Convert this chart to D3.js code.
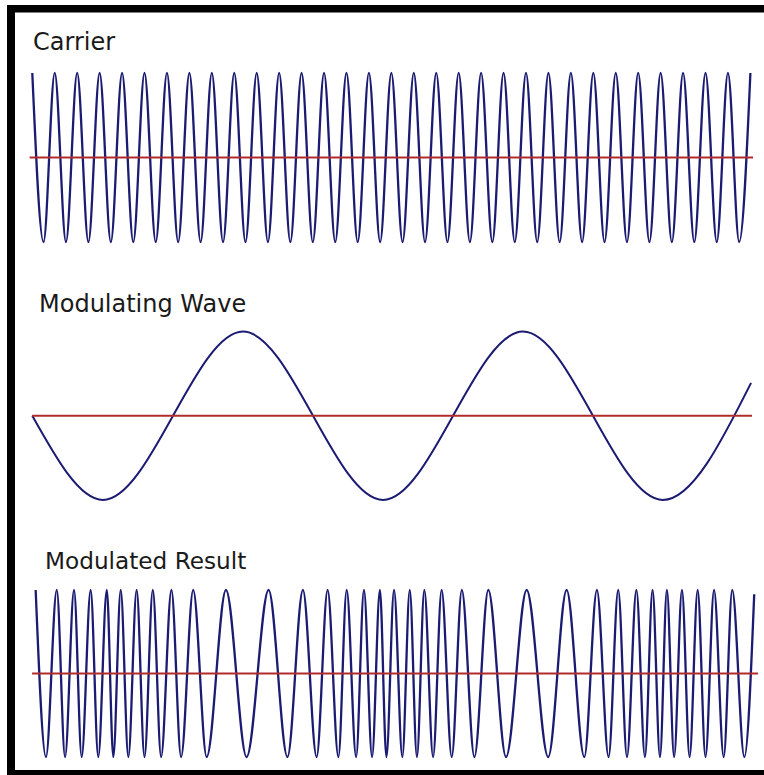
<!DOCTYPE html>
<html>
<head>
<meta charset="utf-8">
<script src="https://cdn.jsdelivr.net/npm/d3@7"></script>
<style>
  html, body { margin: 0; padding: 0; background: #ffffff; }
  svg { display: block; }
</style>
</head>
<body>
<svg id="chart" width="764" height="775"></svg>
<script>
// ---- Data (time in carrier cycles, amplitude normalised to ±1) ----
const panelTitles = ["Carrier", "Modulating Wave", "Modulated Result"];

// Carrier: extrema positions
const carrierPeaks = [0, 1, 2, 3, 4, 5, 6, 7, 8, 9, 10, 11, 12, 13, 14, 15, 16, 17, 18, 19, 20,
  21, 22, 23, 24, 25, 26, 27, 28, 29, 30, 31, 32];
const carrierTroughs = [0.5, 1.5, 2.5, 3.5, 4.5, 5.5, 6.5, 7.5, 8.5, 9.5, 10.5, 11.5, 12.5, 13.5,
  14.5, 15.5, 16.5, 17.5, 18.5, 19.5, 20.5, 21.5, 22.5, 23.5, 24.5, 25.5, 26.5, 27.5, 28.5, 29.5,
  30.5, 31.5];

// Modulating wave: start, extrema, end
const modulatingT = [0, 3.15, 9.39, 15.63, 21.87, 28.10, 32.03];
const modulatingV = [0, -1, 1, -1, 1, -1, 0.39];

// Modulated result: extrema positions
const resultPeaks = [0.15, 1.09, 1.86, 2.60, 3.32, 3.94, 4.65, 5.37, 6.20, 7.17, 8.63, 10.53,
  12.06, 13.16, 14.01, 14.78, 15.49, 16.12, 16.82, 17.47, 18.24, 19.14, 20.32, 22.03, 23.81,
  25.16, 26.11, 26.92, 27.64, 28.28, 28.95, 29.65, 30.38, 31.19];
const resultTroughs = [0.61, 1.46, 2.20, 2.94, 3.61, 4.28, 5.00, 5.74, 6.63, 7.77, 9.55, 11.37,
  12.67, 13.64, 14.43, 15.14, 15.78, 16.49, 17.14, 17.86, 18.69, 19.70, 21.11, 22.99, 24.60,
  25.68, 26.50, 27.30, 27.97, 28.60, 29.29, 30.00, 30.81, 31.73];
const resultEnd = [32.17, 0.95];

// Zero-reference line extents (time)
const baselineStart = [-0.12, -0.01, -0.01];
const baselineEnd = [32.12, 32.07, 32.34];

// ---- Build point series ----
function extremaSeries(peaks, troughs) {
  const pts = peaks.map(t => ({t, v: 1})).concat(troughs.map(t => ({t, v: -1})));
  pts.sort((a, b) => a.t - b.t);
  return pts;
}
const carrierSeries = extremaSeries(carrierPeaks, carrierTroughs);
const modulatingSeries = modulatingT.map((t, i) => ({t, v: modulatingV[i]}));
const resultSeries = extremaSeries(resultPeaks, resultTroughs).concat([{t: resultEnd[0], v: resultEnd[1]}]);
const seriesList = [carrierSeries, modulatingSeries, resultSeries];

// ---- Layout ----
const svg = d3.select("#chart");
const waveColor = "#1b1b72";
const zeroColor = "#b02c2c";

// frame
svg.append("rect").attr("x", 7).attr("y", 5).attr("width", 8).attr("height", 770).attr("fill", "#000");
svg.append("rect").attr("x", 7).attr("y", 5).attr("width", 757).attr("height", 7.5).attr("fill", "#000");
svg.append("rect").attr("x", 7).attr("y", 770).attr("width", 757).attr("height", 5).attr("fill", "#000");

const x = d3.scaleLinear().domain([0, 32]).range([32.3, 750.4]);

const panels = [
  {yTop: 73, yBot: 242, titleX: 33, titleY: 50, fontSize: 24, stroke: 2.3},
  {yTop: 331.5, yBot: 500, titleX: 39, titleY: 312, fontSize: 24, stroke: 2},
  {yTop: 590, yBot: 757, titleX: 45, titleY: 569, fontSize: 23.2, stroke: 2.3}
];

panels.forEach((p, i) => {
  const y = d3.scaleLinear().domain([-1, 1]).range([p.yBot, p.yTop]);
  const g = svg.append("g");

  g.append("text")
    .attr("x", p.titleX)
    .attr("y", p.titleY)
    .attr("font-family", "'DejaVu Sans', Verdana, sans-serif")
    .attr("font-size", p.fontSize)
    .attr("fill", "#1a1a1a")
    .text(panelTitles[i]);

  const line = d3.line()
    .x(d => x(d.t))
    .y(d => y(d.v))
    .curve(d3.curveMonotoneX);

  g.append("path")
    .datum(seriesList[i])
    .attr("d", line)
    .attr("fill", "none")
    .attr("stroke", waveColor)
    .attr("stroke-width", p.stroke)
    .attr("stroke-linejoin", "round");

  g.append("line")
    .attr("x1", x(baselineStart[i]))
    .attr("x2", x(baselineEnd[i]))
    .attr("y1", y(0))
    .attr("y2", y(0))
    .attr("stroke", zeroColor)
    .attr("stroke-width", 2);
});
</script>
</body>
</html>
